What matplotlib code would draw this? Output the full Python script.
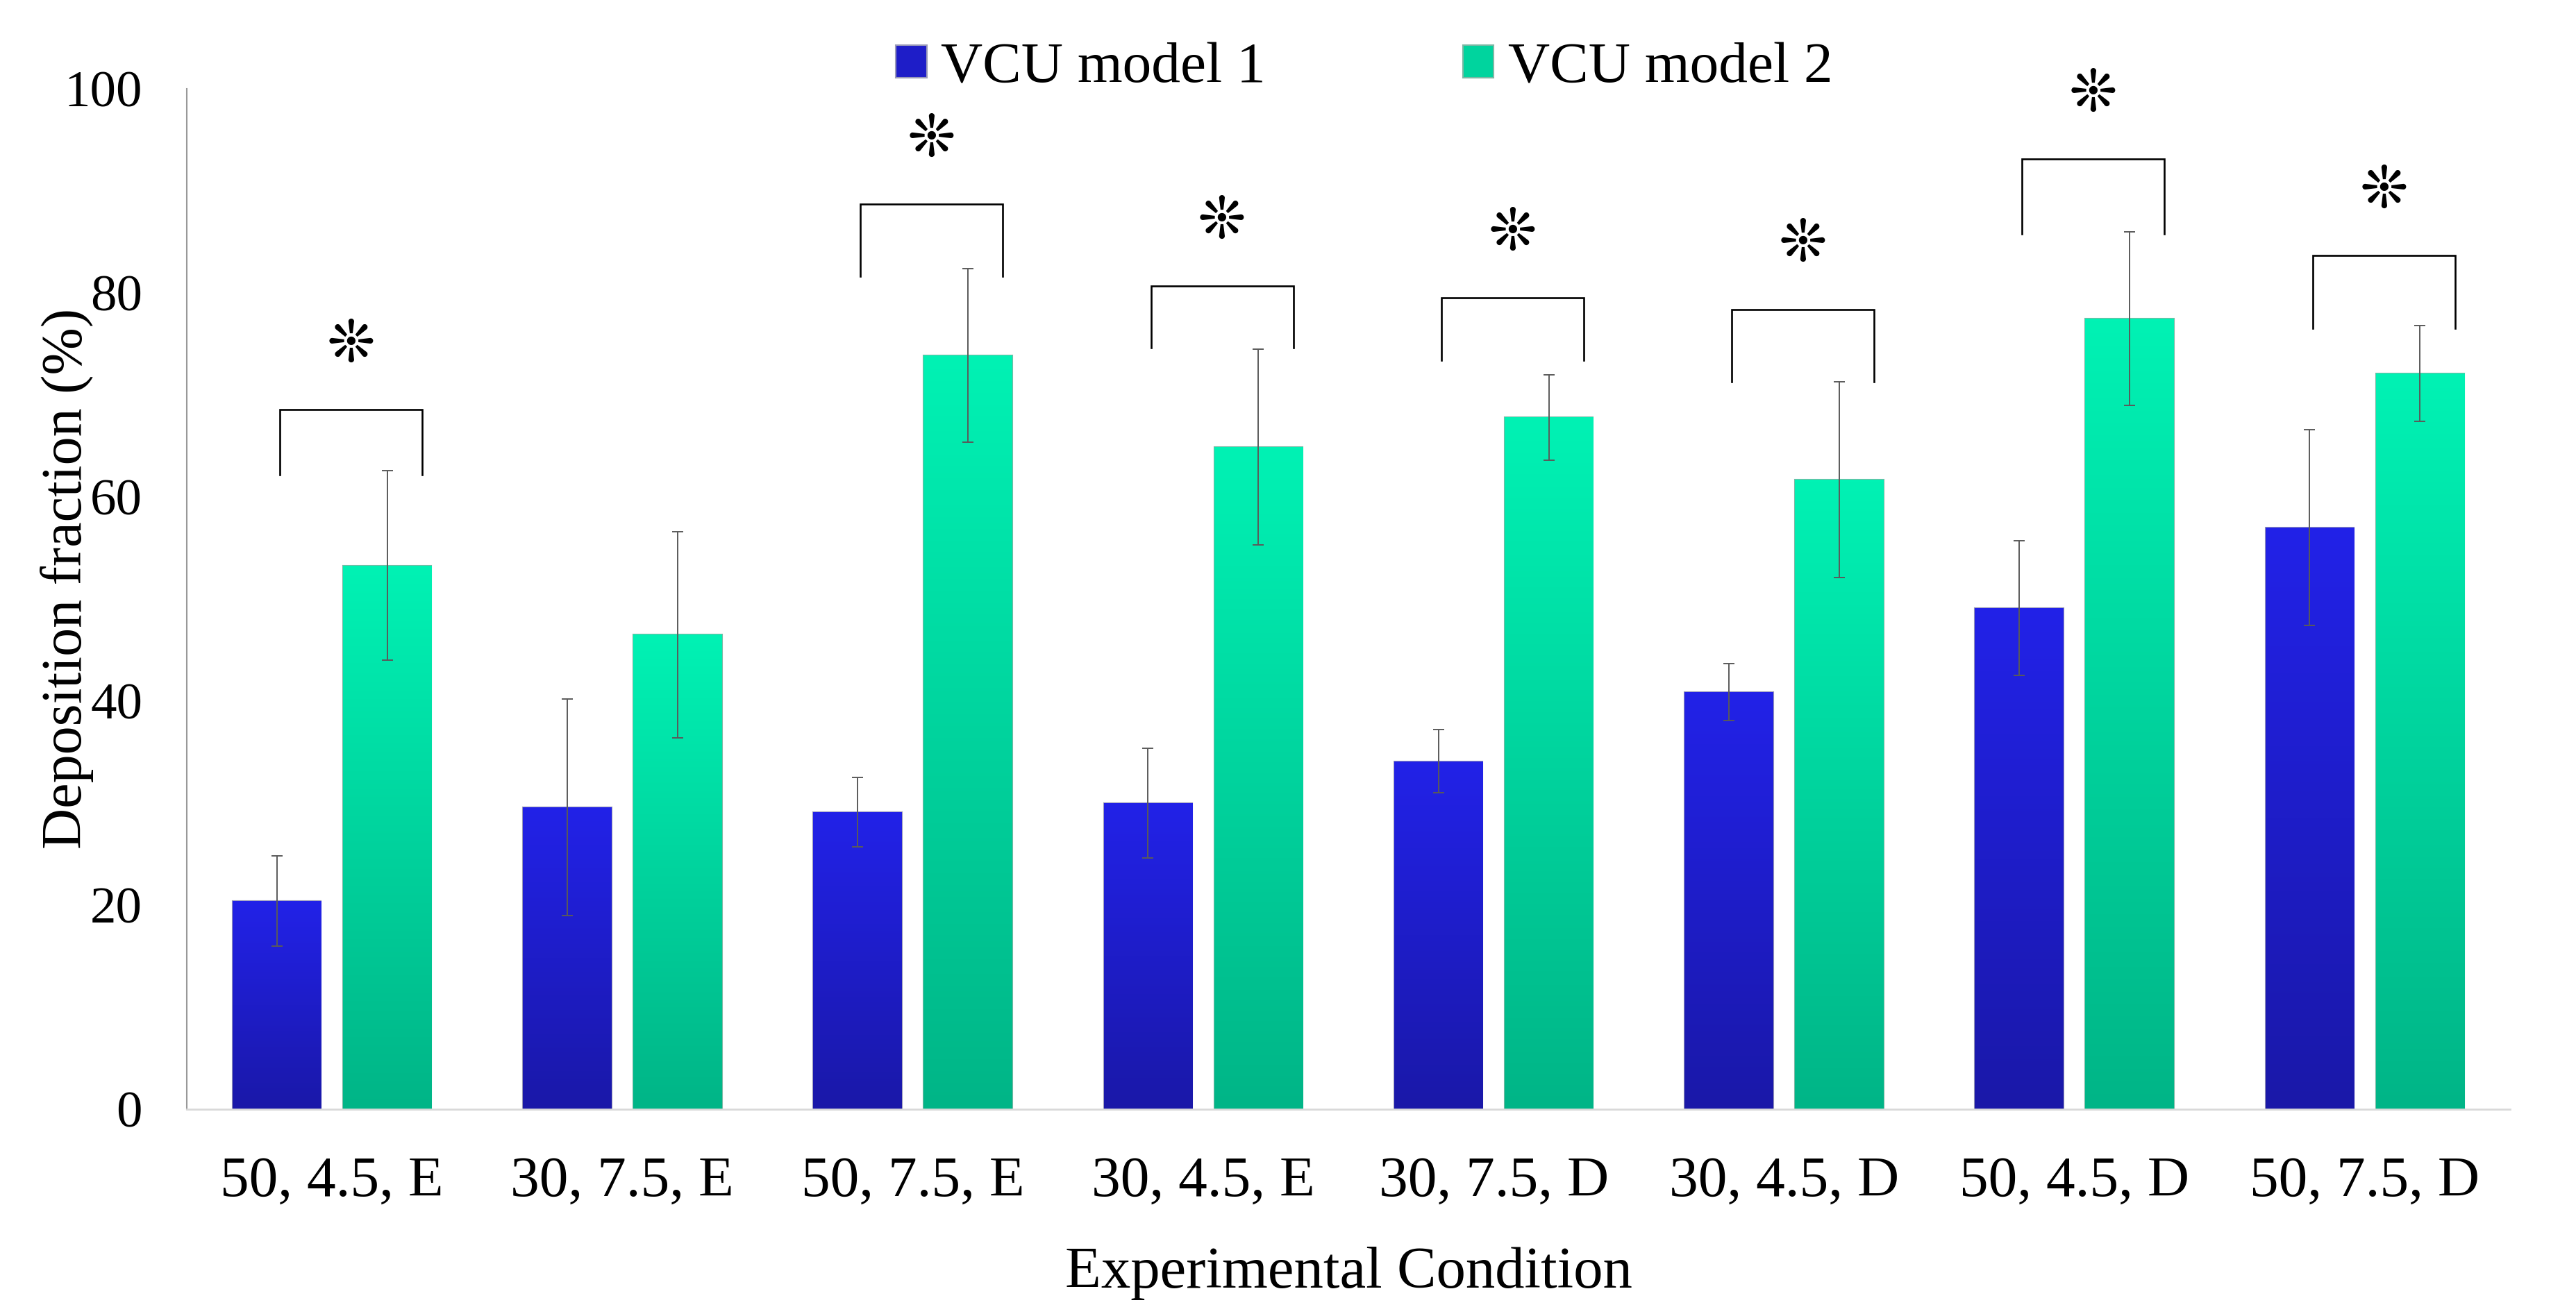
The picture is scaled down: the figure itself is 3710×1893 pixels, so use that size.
import numpy as np
import matplotlib
matplotlib.use("Agg")
import matplotlib.pyplot as plt
from matplotlib.colors import LinearSegmentedColormap

plt.rcParams['font.family'] = ['Liberation Serif', 'DejaVu Sans']

conditions = ['50, 4.5, E', '30, 7.5, E', '50, 7.5, E', '30, 4.5, E',
              '30, 7.5, D', '30, 4.5, D', '50, 4.5, D', '50, 7.5, D']
model1 = [20.4, 29.6, 29.1, 30.0, 34.1, 40.9, 49.1, 57.0]
model1_err = [4.4, 10.6, 3.4, 5.4, 3.1, 2.8, 6.6, 9.6]
model2 = [53.3, 46.5, 73.9, 64.9, 67.8, 61.7, 77.5, 72.1]
model2_err = [9.3, 10.1, 8.5, 9.6, 4.2, 9.6, 8.5, 4.7]
# significance brackets: top of bracket, bottom of legs (None = not significant)
sig_top = [68.6, None, 88.7, 80.7, 79.5, 78.4, 93.1, 83.7]
sig_leg = [62.2, None, 81.6, 74.6, 73.4, 71.3, 85.8, 76.5]

blue_cmap = LinearSegmentedColormap.from_list('b', ['#1a18a8', '#2222e8'])
green_cmap = LinearSegmentedColormap.from_list('g', ['#00b587', '#00f2b4'])

fig = plt.figure(figsize=(37.1, 18.93), dpi=100)
ax = fig.add_axes([0.0725, 0.1558, 0.9019, 0.7766])

x = np.arange(len(conditions))
w = 0.305
off = 0.19

def grad_bars(xpos, vals, cmap, edge, label):
    bars = ax.bar(xpos, vals, w, color=cmap(0.5), edgecolor=edge, linewidth=1.5,
                  label=label, zorder=2)
    grad = np.linspace(0, 1, 256).reshape(-1, 1)
    for b in bars:
        x0, y0 = b.get_x(), b.get_y()
        im = ax.imshow(grad, cmap=cmap, origin='lower', aspect='auto',
                       extent=[x0, x0 + b.get_width(), y0, y0 + b.get_height()],
                       zorder=2.1)
        im.set_clip_path(b)
    return bars

grad_bars(x - off, model1, blue_cmap, '#9a9ab8', 'VCU model 1')
grad_bars(x + off, model2, green_cmap, '#7ab8a4', 'VCU model 2')

ax.errorbar(x - off, model1, yerr=model1_err, fmt='none', ecolor='#5a5a5a',
            elinewidth=1.4, capsize=6, capthick=1.4, zorder=3)
ax.errorbar(x + off, model2, yerr=model2_err, fmt='none', ecolor='#5a5a5a',
            elinewidth=1.4, capsize=6, capthick=1.4, zorder=3)

for i, (t, l) in enumerate(zip(sig_top, sig_leg)):
    if t is None:
        continue
    xl, xr = x[i] - 0.18, x[i] + 0.31
    ax.plot([xl, xl, xr, xr], [l, t, t, l], color='black', lw=1.9, zorder=4,
            solid_joinstyle='miter')
    ax.text((xl + xr) / 2, t + 6.3, '\u274a', ha='center', va='center',
            fontsize=60, family='DejaVu Sans', zorder=4)

ax.set_xlim(-0.5, len(conditions) - 0.5)
ax.set_ylim(0, 100)
ax.set_yticks(np.arange(0, 101, 20))
ax.set_xticks(x)
ax.set_xticklabels(conditions)
ax.tick_params(axis='x', length=0, pad=48, labelsize=60)
ax.tick_params(axis='y', length=0, pad=46, labelsize=54)

for s in ['top', 'right']:
    ax.spines[s].set_visible(False)
ax.spines['left'].set_color('#999999')
ax.spines['left'].set_linewidth(1.5)
ax.spines['bottom'].set_color('#d9d9d9')
ax.spines['bottom'].set_linewidth(2)

ax.set_xlabel('Experimental Condition', fontsize=61, labelpad=40)
ax.set_ylabel('Deposition fraction (%)', fontsize=59)
ax.yaxis.set_label_coords(-0.040, 0.52)

fig.legend(loc='center', bbox_to_anchor=(0.5296, 0.948), ncol=2, frameon=False,
           fontsize=60, handlelength=0.53, handleheight=0.5, handletextpad=0.25,
           columnspacing=3.4)

plt.savefig('out.png', dpi=100)
